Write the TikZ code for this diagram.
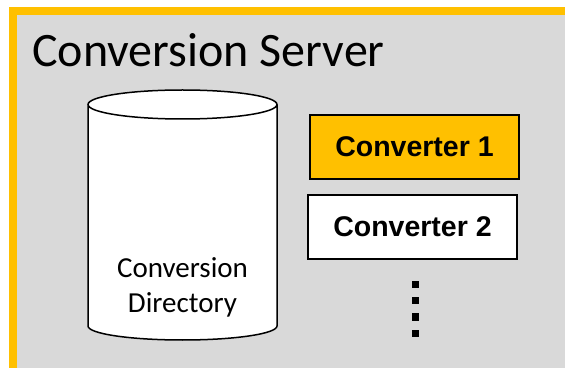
\documentclass[tikz,border=0pt]{standalone}
\usepackage{fontspec}
\setmainfont{Carlito}
\newfontfamily\boxfont{Liberation Sans}
\definecolor{srvgray}{HTML}{D9D9D9}
\definecolor{srvgold}{HTML}{FFC000}

\begin{document}
\begin{tikzpicture}[x=1pt, y=1pt,
    conv/.style={draw=black, line width=1.3pt, minimum width=209pt, minimum height=64pt,
                 inner sep=0pt, font=\boxfont\bfseries\fontsize{28.5}{34}\selectfont}]
      \clip (0, 0) rectangle (565, 367);
      \fill[white] (0, 0) rectangle (565, 367);
      \filldraw[fill=srvgray, draw=srvgold, line width=8pt] (12.5, -10) rectangle (580, 356);

      \node[anchor=base west, inner sep=0pt, font=\fontsize{48}{57}\selectfont] (title) at (32, 300) {Conversion Server};

      \filldraw[fill=white, draw=black, line width=1.5pt] (88, 262.5) -- (88, 41)
          arc[start angle=180, end angle=360, x radius=94.5, y radius=14] -- (277, 262.5)
          arc[start angle=0, end angle=360, x radius=94.5, y radius=14.5];
      \node[align=center, inner sep=0pt, font=\fontsize{29}{35}\selectfont] (dir) at (182.5, 80) {Conversion\\Directory};

      \node[conv, fill=srvgold] (conv1) at (414.5, 220) {Converter 1};
      \node[conv, fill=white] (conv2) at (412.5, 140) {Converter 2};

      \foreach \y in {82, 66, 50, 34} {
          \fill (412, \y - 3.5) rectangle (419, \y + 3.5);
      }
  \end{tikzpicture}
\end{document}
